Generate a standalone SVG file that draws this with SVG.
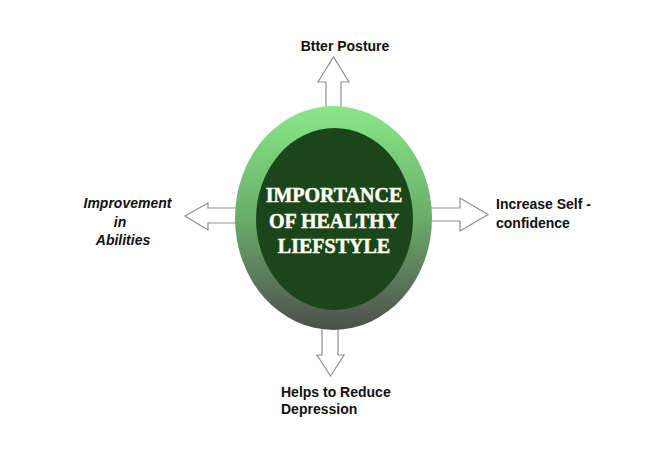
<svg xmlns="http://www.w3.org/2000/svg" width="660" height="474" viewBox="0 0 660 474">
<defs>
<linearGradient id="ring" x1="0" y1="0" x2="0" y2="1">
<stop offset="0" stop-color="#88e888"/>
<stop offset="0.5" stop-color="#69ad69"/>
<stop offset="1" stop-color="#4e4e4e"/>
</linearGradient>
</defs>
<style>
.arrow{fill:#ffffff;stroke:#8f8f8f;stroke-width:1.2}
.lbl{font-family:"Liberation Sans",Arial,sans-serif;font-weight:bold;font-size:14px;fill:#111}
.it{font-style:italic}
.title{font-family:"Liberation Serif","Times New Roman",serif;font-weight:bold;font-size:20px;fill:#ffffff;stroke:#fffbe0;stroke-width:0.5;text-anchor:middle}
</style>
<rect width="660" height="474" fill="#ffffff"/>
<g id="connectors">
<polygon class="arrow" points="326,110 326,82 318,82 333.5,57 349,82 341,82 341,110"/>
<polygon class="arrow" points="240,208 208,208 208,203 185,216 208,230 208,223 240,223"/>
<polygon class="arrow" points="428,208 460,208 460,198 488,214.5 460,231 460,221 428,221"/>
<polygon class="arrow" points="322,325 322,355 317,355 330.5,376 344,355 338,355 338,325"/>
</g>
<g id="center">
<ellipse cx="333.5" cy="218" rx="98.5" ry="112" fill="url(#ring)"/>
<ellipse cx="334.5" cy="219" rx="78.5" ry="91" fill="#1b461b"/>
<text class="title" x="334" y="202">IMPORTANCE</text>
<text class="title" x="334" y="228">OF HEALTHY</text>
<text class="title" x="334" y="253">LIEFSTYLE</text>
</g>
<g id="top"><text class="lbl" x="345" y="51" text-anchor="middle">Btter Posture</text></g>
<g id="left">
<text class="lbl it" x="127.5" y="208" text-anchor="middle">Improvement</text>
<text class="lbl it" x="120" y="227" text-anchor="middle">in</text>
<text class="lbl it" x="123" y="245" text-anchor="middle">Abilities</text>
</g>
<g id="right">
<text class="lbl" x="496" y="209">Increase Self -</text>
<text class="lbl" x="496" y="228">confidence</text>
</g>
<g id="bottom">
<text class="lbl" x="281" y="397">Helps to Reduce</text>
<text class="lbl" x="281" y="414">Depression</text>
</g>
</svg>
